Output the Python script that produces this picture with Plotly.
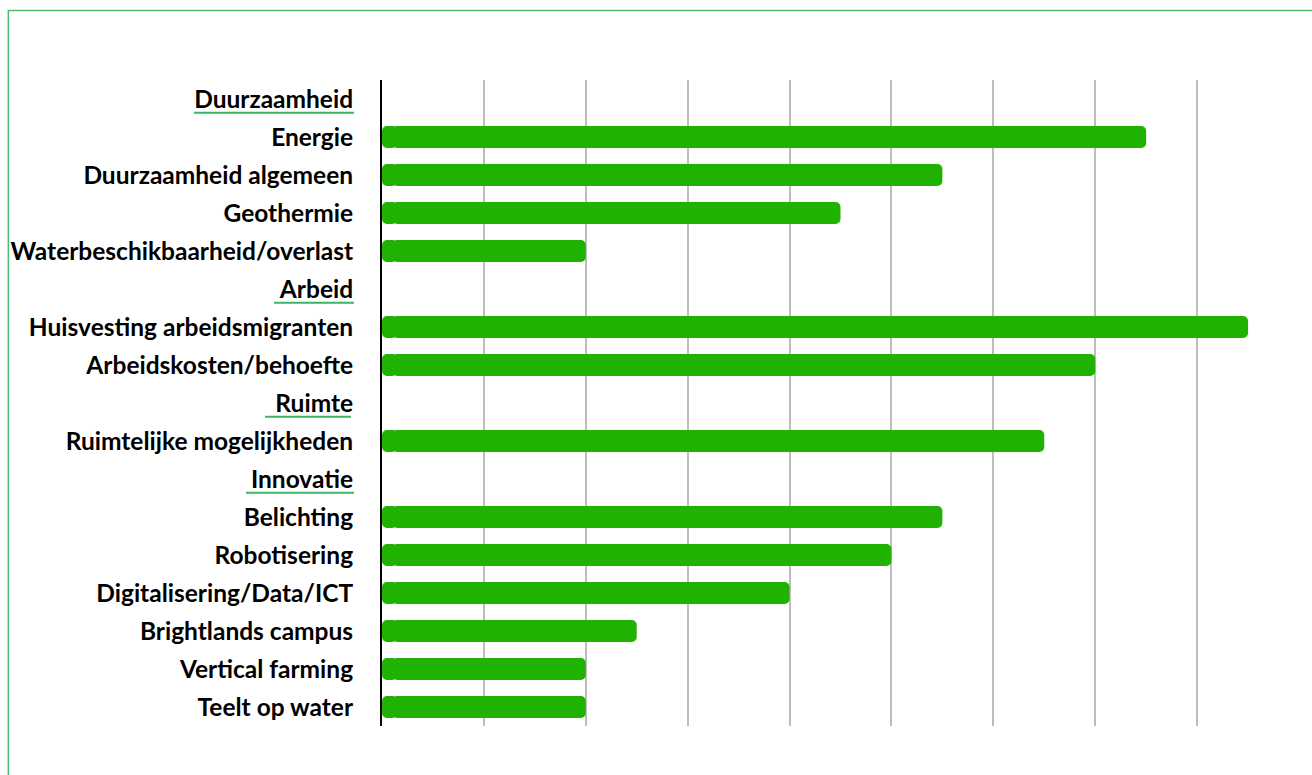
import plotly.graph_objects as go

categories = [
    "Duurzaamheid", "Energie", "Duurzaamheid algemeen", "Geothermie",
    "Waterbeschikbaarheid/overlast", "Arbeid", "Huisvesting arbeidsmigranten",
    "Arbeidskosten/behoefte", "Ruimte", "Ruimtelijke mogelijkheden", "Innovatie",
    "Belichting", "Robotisering", "Digitalisering/Data/ICT", "Brightlands campus",
    "Vertical farming", "Teelt op water",
]
values = [None, 15, 11, 9, 4, None, 17, 14, None, 13, None, 11, 10, 8, 5, 4, 4]
headers = ["Duurzaamheid", "Arbeid", "Ruimte", "Innovatie"]

BAR = "#1fb200"
LINE_GREEN = "#3cb464"
BAR_WIDTH = 22 / 38  # rows are 38 px tall -> 22 px bars, edges on whole pixels

# each bar = a short cap (rounded at 0) + main body (rounded at its value),
# so both ends of the bar appear rounded
CAP = 0.3
cap_base = [CAP if v is not None else None for v in values]
cap_len = [-CAP if v is not None else None for v in values]
body_base = [0.2 if v is not None else None for v in values]
body_len = [v - 0.2 if v is not None else None for v in values]

fig = go.Figure()
fig.add_trace(go.Bar(y=categories, x=body_len, base=body_base, orientation="h",
                     marker=dict(color=BAR, line=dict(width=0)), width=BAR_WIDTH,
                     customdata=values, hovertemplate="%{y}: %{customdata}<extra></extra>",
                     showlegend=False))
fig.add_trace(go.Bar(y=categories, x=cap_len, base=cap_base, orientation="h",
                     marker=dict(color=BAR, line=dict(width=0)), width=BAR_WIDTH,
                     hoverinfo="skip", showlegend=False))

# underline extents (px, relative to plot left edge)
underline_px = {"Duurzaamheid": (-188, -28), "Arbeid": (-108, -28),
                "Ruimte": (-117, -31), "Innovatie": (-136, -28)}
for h in headers:
    i = categories.index(h)
    x0, x1 = underline_px[h]
    fig.add_shape(type="line", xref="paper", yref="y", xsizemode="pixel", xanchor=0,
                  x0=x0, x1=x1, y0=i + 0.36, y1=i + 0.36,
                  line=dict(color=LINE_GREEN, width=2))

# outer border
fig.add_shape(type="rect", xref="paper", yref="paper",
              x0=(8.5 - 382) / 916.6, x1=1.2, y0=-0.2, y1=(726 - 10.5) / 646,
              line=dict(color="#4cbe6c", width=1.5), fillcolor="rgba(0,0,0,0)", layer="below")

fig.update_layout(
    width=1312, height=775,
    margin=dict(l=382, r=13, t=80, b=49, autoexpand=False),
    paper_bgcolor="white", plot_bgcolor="white",
    barmode="overlay", barcornerradius=5,
    showlegend=False,
)
fig.update_xaxes(range=[0, 18], dtick=2, tick0=0, showgrid=True, gridcolor="#bdbdbd",
                 gridwidth=1.5, showticklabels=False, zeroline=False, showline=False,
                 fixedrange=True, automargin=False)
fig.update_yaxes(type="category", categoryorder="array", categoryarray=categories,
                 range=[len(categories) - 0.5, -0.5], showline=True, linecolor="black",
                 linewidth=2, showgrid=False, ticks="outside", ticklen=0,
                 ticklabelstandoff=22, automargin=False,
                 tickfont=dict(family="Lato", size=24.5, color="black", weight="bold"),
                 fixedrange=True)

fig.write_html("out.html")
